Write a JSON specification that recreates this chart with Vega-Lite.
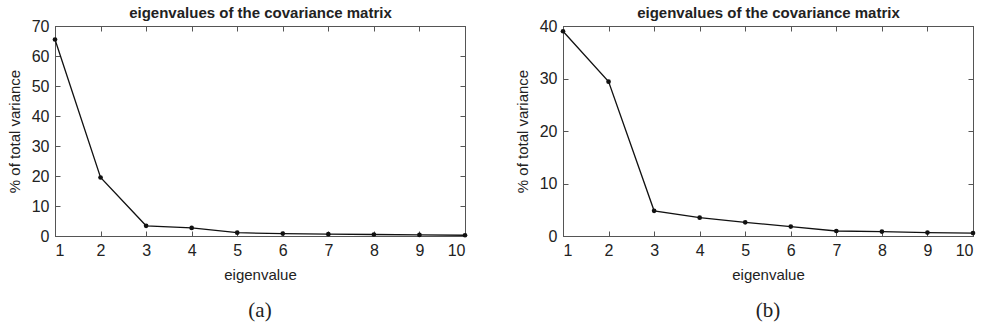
{
  "$schema": "https://vega.github.io/schema/vega-lite/v6.json",
  "background": "white",
  "padding": {"left": 6, "top": 5, "right": 5, "bottom": 5},
  "datasets": {
    "a": [
      {"k": 1, "v": 65.5}, {"k": 2, "v": 19.5}, {"k": 3, "v": 3.4}, {"k": 4, "v": 2.7}, {"k": 5, "v": 1.1},
      {"k": 6, "v": 0.8}, {"k": 7, "v": 0.6}, {"k": 8, "v": 0.5}, {"k": 9, "v": 0.35}, {"k": 10, "v": 0.25}
    ],
    "b": [
      {"k": 1, "v": 39.0}, {"k": 2, "v": 29.4}, {"k": 3, "v": 4.8}, {"k": 4, "v": 3.5}, {"k": 5, "v": 2.6},
      {"k": 6, "v": 1.8}, {"k": 7, "v": 0.95}, {"k": 8, "v": 0.85}, {"k": 9, "v": 0.65}, {"k": 10, "v": 0.55}
    ]
  },
  "hconcat": [
    {
      "title": {"text": "(a)", "orient": "bottom", "font": "Liberation Serif", "fontSize": 21, "fontWeight": "normal", "color": "#222", "offset": 18},
      "width": 410,
      "height": 210,
      "data": {"name": "a"},
      "layer": [
        {
          "mark": {"type": "line", "color": "#111", "strokeWidth": 1.3},
          "encoding": {
            "x": {"field": "k", "type": "quantitative", "scale": {"domain": [1, 10], "nice": false, "zero": false},
                  "axis": {"orient": "bottom", "values": [1,2,3,4,5,6,7,8,9,10], "format": "d", "title": "eigenvalue"}},
            "y": {"field": "v", "type": "quantitative", "scale": {"domain": [0, 70], "nice": false},
                  "axis": {"orient": "left", "values": [0,10,20,30,40,50,60,70], "format": "d", "title": "% of total variance"}}
          }
        },
        {
          "mark": {"type": "point", "filled": true, "color": "#111", "size": 22, "opacity": 1},
          "encoding": {
            "x": {"field": "k", "type": "quantitative",
                  "axis": {"orient": "top", "values": [1,2,3,4,5,6,7,8,9,10], "labels": false, "title": "eigenvalues of the covariance matrix", "titleFontWeight": "bold", "titleFontSize": 15, "titlePadding": 5}},
            "y": {"field": "v", "type": "quantitative",
                  "axis": {"orient": "right", "values": [0,10,20,30,40,50,60,70], "labels": false, "title": null}}
          }
        }
      ],
      "resolve": {"axis": {"x": "independent", "y": "independent"}}
    },
    {
      "title": {"text": "(b)", "orient": "bottom", "font": "Liberation Serif", "fontSize": 21, "fontWeight": "normal", "color": "#222", "offset": 18},
      "width": 410,
      "height": 210,
      "data": {"name": "b"},
      "layer": [
        {
          "mark": {"type": "line", "color": "#111", "strokeWidth": 1.3},
          "encoding": {
            "x": {"field": "k", "type": "quantitative", "scale": {"domain": [1, 10], "nice": false, "zero": false},
                  "axis": {"orient": "bottom", "values": [1,2,3,4,5,6,7,8,9,10], "format": "d", "title": "eigenvalue"}},
            "y": {"field": "v", "type": "quantitative", "scale": {"domain": [0, 40], "nice": false},
                  "axis": {"orient": "left", "values": [0,10,20,30,40], "format": "d", "title": "% of total variance"}}
          }
        },
        {
          "mark": {"type": "point", "filled": true, "color": "#111", "size": 22, "opacity": 1},
          "encoding": {
            "x": {"field": "k", "type": "quantitative",
                  "axis": {"orient": "top", "values": [1,2,3,4,5,6,7,8,9,10], "labels": false, "title": "eigenvalues of the covariance matrix", "titleFontWeight": "bold", "titleFontSize": 15, "titlePadding": 5}},
            "y": {"field": "v", "type": "quantitative",
                  "axis": {"orient": "right", "values": [0,10,20,30,40], "labels": false, "title": null}}
          }
        }
      ],
      "resolve": {"axis": {"x": "independent", "y": "independent"}}
    }
  ],
  "spacing": 45,
  "config": {
    "view": {"stroke": "#555", "strokeWidth": 1},
    "axis": {
      "grid": false,
      "labelFont": "Liberation Sans",
      "labelFontSize": 16,
      "labelColor": "#222",
      "titleFont": "Liberation Sans",
      "titleFontSize": 15,
      "titleFontWeight": "normal",
      "titleColor": "#222",
      "domainColor": "#555",
      "tickColor": "#555",
      "tickSize": -5,
      "labelPadding": 11,
      "titlePadding": 9
    }
  }
}
